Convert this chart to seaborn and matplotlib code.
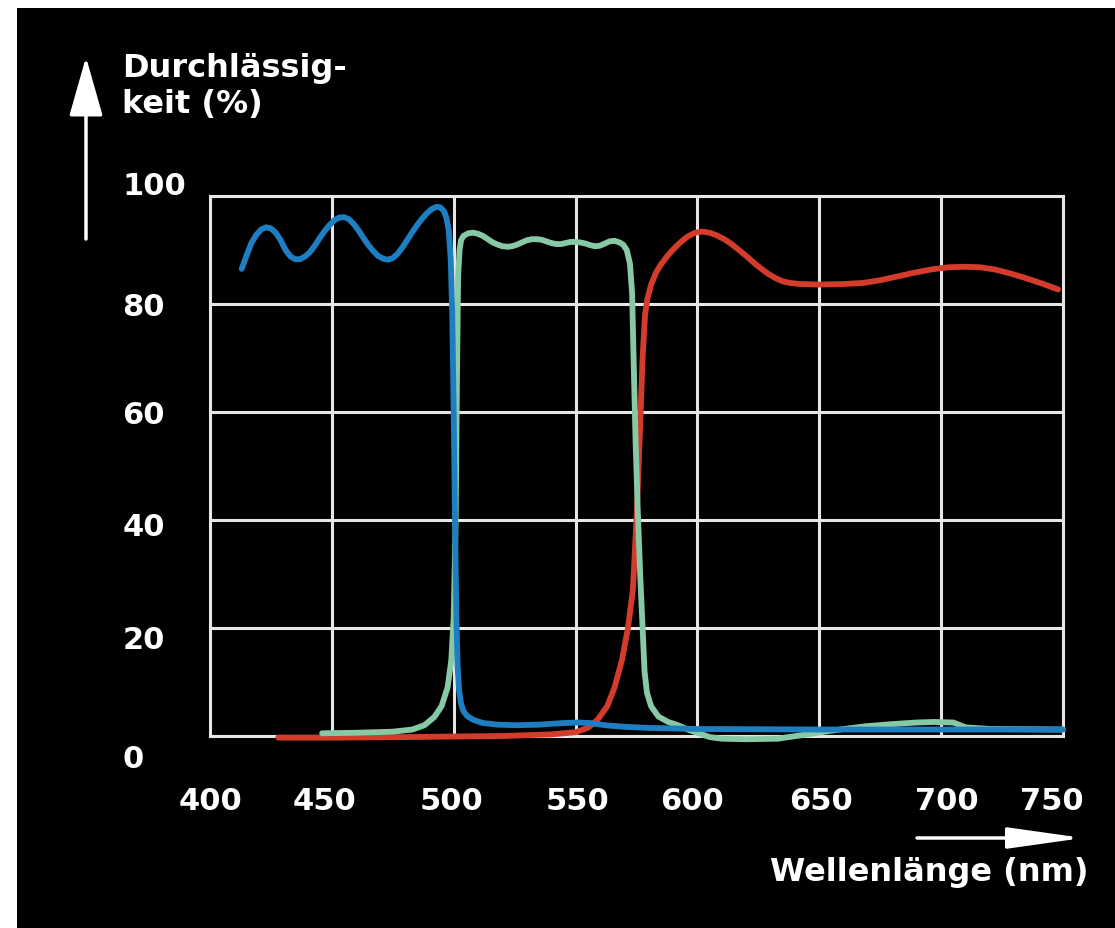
import matplotlib
matplotlib.use("Agg")
import matplotlib.pyplot as plt
import matplotlib.transforms as mtransforms
from matplotlib.patches import Rectangle
import pandas as pd
import seaborn as sns

# Transmission curves of the three dichroic filters (wavelength in nm, transmission in %)
blau_nm = [413, 415, 417, 419, 421, 423, 425, 427, 429, 431, 433, 435, 437, 439, 441, 443,
           445, 447, 449, 451, 453, 455, 457, 459, 461, 463, 465, 467, 469, 471, 473, 475,
           477, 479, 481, 483, 485, 487, 489, 491, 493, 494.5, 496, 497, 498, 498.8, 499.4,
           500, 500.6, 501.1, 501.6, 502.2, 503, 504, 505.5, 508, 512, 518, 526, 535, 545,
           551, 556, 562, 570, 580, 600, 650, 700, 750]
blau_pct = [86.5, 89, 91.3, 92.8, 93.8, 94.2, 94.0, 93.2, 91.8, 90.0, 88.8, 88.3, 88.3, 88.8,
            89.6, 90.8, 92.2, 93.5, 94.6, 95.5, 96.0, 96.1, 95.7, 94.8, 93.6, 92.2, 90.9,
            89.8, 88.9, 88.4, 88.2, 88.5, 89.3, 90.5, 91.9, 93.3, 94.6, 95.8, 96.8, 97.6,
            98.0, 97.9, 97.2, 96, 93.5, 88, 78, 60, 38, 22, 13, 8.5, 6, 4.6, 3.7, 3, 2.4,
            2.1, 2, 2.1, 2.4, 2.5, 2.4, 2, 1.7, 1.5, 1.3, 1.2, 1.2, 1.2]

gruen_nm = [446, 460, 475, 483, 488, 492, 495, 497.5, 499, 500, 500.8, 501.3, 501.8, 502.4,
            503, 504, 506, 508, 510, 512, 514, 516, 518, 520, 522, 524, 526, 528, 530, 532,
            534, 536, 538, 540, 542, 544, 546, 548, 550, 552, 554, 556, 558, 560, 562, 564,
            566, 568, 569.5, 571, 572.3, 573.2, 573.8, 574.6, 575.5, 576.5, 577.5, 578.3,
            579.3, 581, 584, 588, 592, 596, 600, 605, 610, 620, 633, 645, 655, 669, 680,
            690, 697, 705, 710, 720, 750]
gruen_pct = [0.5, 0.6, 0.8, 1.2, 2, 3.5, 5.5, 9, 14, 22, 40, 65, 85, 90,
             91.8, 92.6, 93.1, 93.2, 93, 92.6, 92, 91.4, 91, 90.7, 90.6, 90.7, 91, 91.4,
             91.8, 92, 92, 91.9, 91.6, 91.3, 91.1, 91.1, 91.3, 91.5, 91.5, 91.4, 91.2,
             90.9, 90.7, 90.8, 91.2, 91.6, 91.7, 91.4, 91, 90, 87.5, 82, 70, 55, 42, 30,
             20, 12, 8, 5.5, 3.6, 2.6, 2, 1.2, 0.6, -0.2, -0.5, -0.6, -0.5, 0.3, 1, 1.8,
             2.2, 2.5, 2.6, 2.5, 1.6, 1.3, 1.2]

rot_nm = [428, 450, 480, 500, 520, 540, 550, 555, 559, 563, 566, 569, 571.5, 573.5, 575,
          576.3, 577.5, 578.5, 579.5, 581, 583, 585, 587.5, 590, 593, 596, 599, 602, 605,
          608, 611, 614, 617, 620, 623, 626, 629, 632, 635, 638, 642, 650, 660, 668, 675,
          682, 689, 696, 703, 710, 716, 722, 728, 734, 740, 745, 748]
rot_pct = [-0.3, -0.3, -0.2, -0.1, 0, 0.3, 0.7, 1.5, 3, 5.5, 9, 14, 20, 27, 40,
           55, 70, 78, 81, 83.6, 85.8, 87.3, 88.8, 90.1, 91.4, 92.5, 93.2, 93.4, 93.2,
           92.7, 92, 91.1, 90, 88.9, 87.7, 86.6, 85.6, 84.8, 84.2, 83.9, 83.7, 83.6, 83.7,
           83.9, 84.4, 85.1, 85.8, 86.4, 86.8, 86.9, 86.8, 86.4, 85.7, 84.9, 84, 83.2, 82.7]

x_ticks = [400, 450, 500, 550, 600, 650, 700, 750]
y_ticks = [0, 20, 40, 60, 80, 100]
y_label = "Durchlässig-\nkeit (%)"
x_label = "Wellenlänge (nm)"

farben = {"rot": "#d33b2b", "gruen": "#88c9a5", "blau": "#1d7fc1"}

df = pd.concat([
    pd.DataFrame({"nm": rot_nm, "pct": rot_pct, "filter": "rot"}),
    pd.DataFrame({"nm": gruen_nm, "pct": gruen_pct, "filter": "gruen"}),
    pd.DataFrame({"nm": blau_nm, "pct": blau_pct, "filter": "blau"}),
], ignore_index=True)

W, H = 1115, 929
fig = plt.figure(figsize=(W / 100, H / 100), dpi=100, facecolor="white")
# black panel leaving a thin white margin on the left and top
fig.patches.append(Rectangle((17 / W, 0), 1, (H - 9) / H, transform=fig.transFigure,
                             facecolor="black", edgecolor="none", zorder=-10))

ax = fig.add_axes([210 / W, (H - 737) / H, (1063 - 210) / W, (737 - 197) / H])
ax.set_facecolor("black")

sns.lineplot(data=df, x="nm", y="pct", hue="filter", hue_order=["rot", "gruen", "blau"],
             palette=farben, estimator=None, sort=False, legend=False, ax=ax,
             linewidth=4.2, solid_capstyle="round", solid_joinstyle="round",
             clip_on=False, zorder=3)

ax.set_xlim(400, 750)
ax.set_ylim(0, 100)
ax.set_xticks(x_ticks)
ax.set_yticks(y_ticks)
ax.set_xticklabels([str(v) for v in x_ticks])
ax.set_yticklabels([str(v) for v in y_ticks])
ax.grid(True, color="#e6e6e6", linewidth=2.2)
ax.set_axisbelow(True)
for s in ax.spines.values():
    s.set_color("#e6e6e6")
    s.set_linewidth(2.2)
    s.set_zorder(1)
ax.set_xlabel("")
ax.set_ylabel("")

ax.tick_params(axis="both", length=0, colors="white", labelsize=22)
ax.tick_params(axis="x", pad=36)
ax.tick_params(axis="y", pad=63)
for lab in ax.get_xticklabels() + ax.get_yticklabels():
    lab.set_fontweight("bold")
    lab.set_color("white")

# small optical shifts of the tick labels (in pixels)
x_shift = [0, -7, -2, 2, -5, 2, 6, -11]
y_shift = [-20, -9, -4, 0, 0, 13]
for lab, dx in zip(ax.get_xticklabels(), x_shift):
    lab.set_transform(lab.get_transform() + mtransforms.ScaledTranslation(dx / 100, 0, fig.dpi_scale_trans))
for lab, dy in zip(ax.get_yticklabels(), y_shift):
    lab.set_ha("left")
    lab.set_transform(lab.get_transform() + mtransforms.ScaledTranslation(0, dy / 100, fig.dpi_scale_trans))

# axis titles
fig.text(122 / W, 1 - 53 / H, y_label, color="white", fontsize=23, fontweight="bold",
         ha="left", va="top", linespacing=1.2)
fig.text(1088 / W, 1 - 873 / H, x_label, color="white", fontsize=23, fontweight="bold",
         ha="right", va="center")

# direction arrows
ax.annotate("", xy=(86, H - 58), xytext=(86, H - 240), xycoords="figure pixels",
            textcoords="figure pixels",
            arrowprops=dict(arrowstyle="-|>,head_length=3.7,head_width=1.05",
                            color="white", linewidth=2.5, shrinkA=0, shrinkB=0),
            annotation_clip=False)
ax.annotate("", xy=(1083, H - 839), xytext=(917, H - 839), xycoords="figure pixels",
            textcoords="figure pixels",
            arrowprops=dict(arrowstyle="-|>,head_length=4.6,head_width=0.65",
                            color="white", linewidth=2.5, shrinkA=0, shrinkB=0),
            annotation_clip=False)

fig.savefig("out.png", dpi=100, facecolor=fig.get_facecolor())
